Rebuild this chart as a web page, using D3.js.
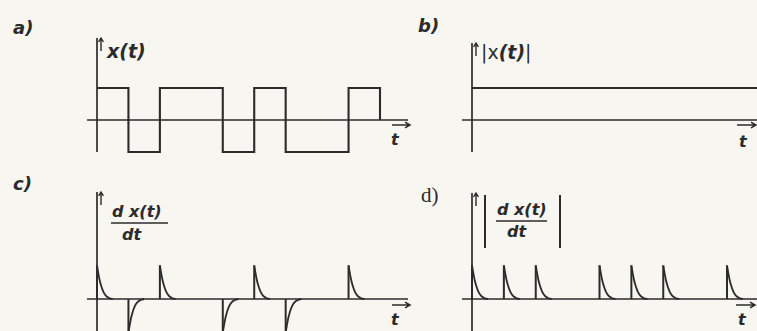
<!DOCTYPE html>
<html>
<head>
<meta charset="utf-8">
<script src="https://cdn.jsdelivr.net/npm/d3@7"></script>
<style>
  body { margin: 0; background: #f7f6f1; }
  svg { display: block; }
</style>
</head>
<body>
<svg id="chart" width="757" height="331"></svg>
<script>
// Square wave x(t): level held from each switching instant (time in bit units)
const switchTimes  = [0, 1, 2, 4, 5, 6, 8, 9];
const switchLevels = [1, -1, 1, -1, 1, -1, 1, 0];
// |x(t)|: constant over the whole record
const absTimes  = [0, 9.2];
const absLevels = [1, 1];
// dx/dt: one decaying pulse at every edge of x(t)
const pulseTimes = [0, 1, 2, 4, 5, 6, 8];
const pulseSigns = [1, -1, 1, -1, 1, -1, 1];
const pulsePeak  = 1.05;
// shape of a single pulse: [time offset, fraction of the peak]
const pulseProfile = [[0, 1], [0.04, 0.78], [0.08, 0.58], [0.13, 0.4],
                      [0.2, 0.22], [0.28, 0.1], [0.38, 0.03], [0.5, 0]];
const panelLabels = ["a)", "b)", "c)", "d)"];
const timeLabel = "t";

const ink = "#2b2b2b";
const svg = d3.select("#chart");

// Panel geometry: x maps time units, y maps signal level
const panels = [
  { key: "a", x: d3.scaleLinear([0, 9], [97, 380]),  y: d3.scaleLinear([-1, 1], [152, 88]),
    axisX: [87, 408], axisY: [38, 152], label: [13, 34], labelFont: "sans",
    tArrow: [392, 410, 125], tPos: [391, 145] },
  { key: "b", x: d3.scaleLinear([0, 8], [472, 727]), y: d3.scaleLinear([-1, 1], [152, 88]),
    axisX: [462, 757], axisY: [43, 152], label: [418, 32], labelFont: "sans",
    tArrow: [737, 756, 125], tPos: [739, 147] },
  { key: "c", x: d3.scaleLinear([0, 9], [97, 380]),  y: d3.scaleLinear([-1, 1], [331, 267]),
    axisX: [87, 408], axisY: [192, 331], label: [13, 190], labelFont: "sans",
    tArrow: [392, 410, 305], tPos: [391, 325] },
  { key: "d", x: d3.scaleLinear([0, 8], [472, 727]), y: d3.scaleLinear([-1, 1], [331, 267]),
    axisX: [462, 757], axisY: [193, 331], label: [421, 202], labelFont: "serif",
    tArrow: [736, 755, 305], tPos: [738, 325] }
];

const sansBI = "'DejaVu Sans', 'Liberation Sans', sans-serif";

panels.forEach((p, i) => {
  const g = svg.append("g");
  const y0 = p.y(0);
  const ax = p.x(0);

  // axes
  g.append("line").attr("x1", p.axisX[0]).attr("x2", p.axisX[1])
    .attr("y1", y0).attr("y2", y0)
    .attr("stroke", ink).attr("stroke-width", 1.7);
  g.append("line").attr("x1", ax).attr("x2", ax)
    .attr("y1", p.axisY[0]).attr("y2", p.axisY[1])
    .attr("stroke", ink).attr("stroke-width", 1.7);

  // small up arrow beside the vertical axis
  const top = p.axisY[0];
  const arX = ax + 4;
  g.append("path")
    .attr("d", `M${arX},${top + 13}V${top}M${arX - 2.4},${top + 3.8}L${arX},${top}L${arX + 2.4},${top + 3.8}`)
    .attr("fill", "none").attr("stroke", ink).attr("stroke-width", 1.4);

  // time arrow and label
  const [tx1, tx2, ty] = p.tArrow;
  g.append("path")
    .attr("d", `M${tx1},${ty}H${tx2}M${tx2 - 5},${ty - 2.8}L${tx2},${ty}L${tx2 - 5},${ty + 2.8}`)
    .attr("fill", "none").attr("stroke", ink).attr("stroke-width", 1.5);
  g.append("text").attr("x", p.tPos[0]).attr("y", p.tPos[1])
    .attr("font-family", sansBI).attr("font-style", "italic").attr("font-weight", "bold")
    .attr("font-size", 16).attr("fill", ink).text(timeLabel);

  // panel letter
  g.append("text").attr("x", p.label[0]).attr("y", p.label[1])
    .attr("font-family", p.labelFont === "serif" ? "'Liberation Serif', 'DejaVu Serif', serif" : sansBI)
    .attr("font-style", p.labelFont === "serif" ? "normal" : "italic")
    .attr("font-weight", p.labelFont === "serif" ? "normal" : "bold")
    .attr("font-size", p.labelFont === "serif" ? 21 : 18)
    .attr("fill", ink).text(panelLabels[i]);

  p.g = g;
});

const [pa, pb, pc, pd] = panels;

// a) square wave
const stepLine = d3.line().x(d => pa.x(d[0])).y(d => pa.y(d[1])).curve(d3.curveStepAfter);
pa.g.append("path").datum(d3.zip(switchTimes, switchLevels))
  .attr("d", stepLine).attr("fill", "none").attr("stroke", ink)
  .attr("stroke-width", 2.1).attr("stroke-linejoin", "miter");
pa.g.append("text").attr("x", 107).attr("y", 58)
  .attr("font-family", sansBI).attr("font-style", "italic").attr("font-weight", "bold")
  .attr("font-size", 19).attr("fill", ink).text("x(t)");

// b) magnitude
const absLine = d3.line().x(d => pb.x(d[0])).y(d => pb.y(d[1]));
pb.g.append("path").datum(d3.zip(absTimes, absLevels))
  .attr("d", absLine).attr("fill", "none").attr("stroke", ink).attr("stroke-width", 2.1);
const bt = pb.g.append("text").attr("x", 481).attr("y", 59)
  .attr("font-family", sansBI).attr("font-size", 19).attr("fill", ink);
bt.append("tspan").text("|x");
bt.append("tspan").attr("font-style", "italic").attr("font-weight", "bold").text("(t)");
bt.append("tspan").text("|");

// pulses, drawn as a vertical edge plus a decaying tail
function drawPulses(p, signs) {
  const tail = d3.line().curve(d3.curveMonotoneX);
  pulseTimes.forEach((t0, k) => {
    const s = signs[k];
    const xs = p.x(t0);
    p.g.append("line").attr("x1", xs).attr("x2", xs)
      .attr("y1", p.y(0)).attr("y2", p.y(s * pulsePeak))
      .attr("stroke", ink).attr("stroke-width", 2);
    p.g.append("path")
      .attr("d", tail(pulseProfile.map(([dt, f]) => [p.x(t0 + dt), p.y(s * pulsePeak * f)])))
      .attr("fill", "none").attr("stroke", ink).attr("stroke-width", 1.8);
  });
}
drawPulses(pc, pulseSigns);
drawPulses(pd, pulseSigns.map(Math.abs));

// derivative labels as stacked fractions
function fraction(g, x, yNum, yBar, yDen, barW) {
  g.append("text").attr("x", x + 1).attr("y", yNum)
    .attr("font-family", sansBI).attr("font-style", "italic").attr("font-weight", "bold")
    .attr("font-size", 16).attr("fill", ink).text("d x(t)");
  g.append("line").attr("x1", x).attr("x2", x + barW).attr("y1", yBar).attr("y2", yBar)
    .attr("stroke", ink).attr("stroke-width", 1.7);
  g.append("text").attr("x", x + 11).attr("y", yDen)
    .attr("font-family", sansBI).attr("font-style", "italic").attr("font-weight", "bold")
    .attr("font-size", 16).attr("fill", ink).text("dt");
}
fraction(pc.g, 111, 217, 223, 240, 57);
fraction(pd.g, 496, 215, 221, 237, 51);
[485, 560].forEach(bx => pd.g.append("line").attr("x1", bx).attr("x2", bx)
  .attr("y1", 195).attr("y2", 248).attr("stroke", ink).attr("stroke-width", 2));
</script>
</body>
</html>
